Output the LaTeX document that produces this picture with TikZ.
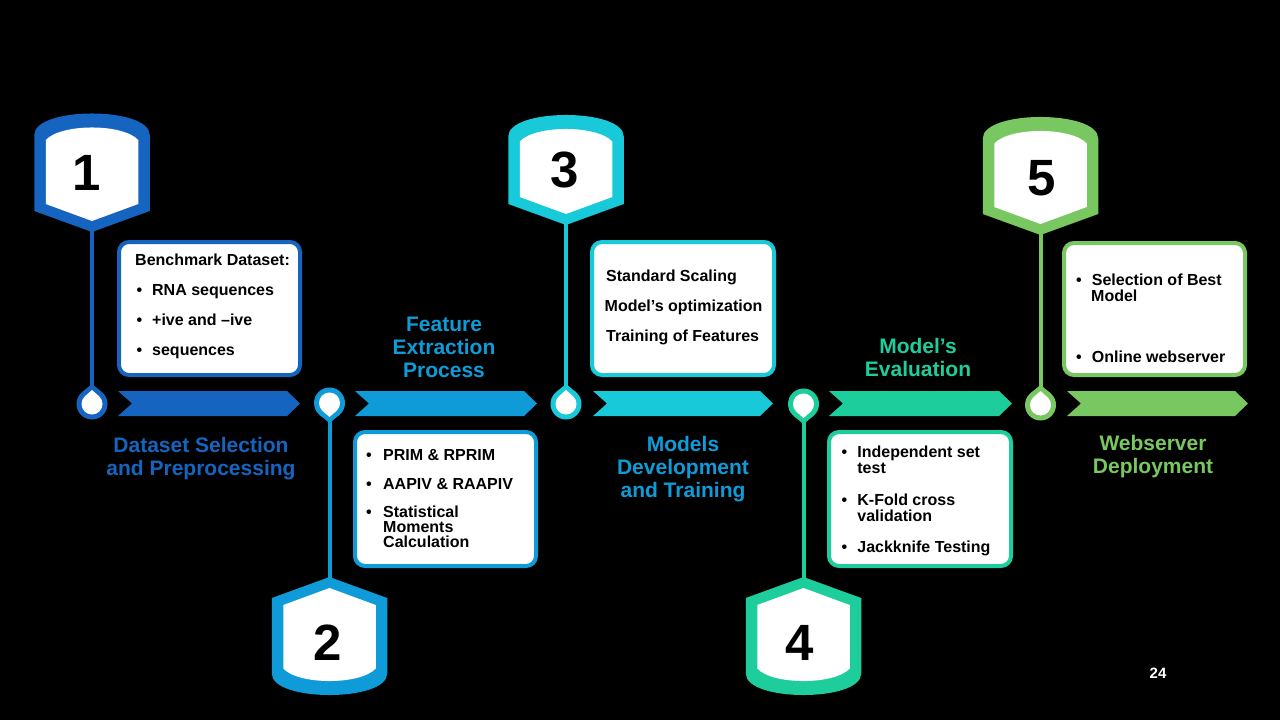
\documentclass[tikz,border=0pt]{standalone}
\usepackage{fontspec}
\setmainfont{Liberation Sans}
\definecolor{cA}{RGB}{21,101,192}
\definecolor{cB}{RGB}{14,155,216}
\definecolor{cC}{RGB}{23,201,217}
\definecolor{cD}{RGB}{29,206,156}
\definecolor{cE}{RGB}{120,199,96}
\newcommand\mybadge[5]{%
  \begin{scope}[shift={(#1,#2)}, yscale=#5]
    \fill[#4] (-57.75,#3-21) -- (-57.75,21.5) .. controls (-57.75,-7.2) and (57.75,-7.2) .. (57.75,21.5) -- (57.75,#3-21) -- (0,#3) -- cycle;
    \fill[white] (-46.25,#3-28) -- (-46.25,26.5) .. controls (-31,9.8) and (31,9.8) .. (46.25,26.5) -- (46.25,#3-28) -- (0,#3-11) -- cycle;
  \end{scope}}
\newcommand\mypin[4]{%
  \fill[#4] (#1,#2) circle[radius=15.5];
  \fill[#4] ([shift={(#3:20)}]#1,#2) -- ([shift={(#3+39.2:15.5)}]#1,#2) -- ([shift={(#3-39.2:15.5)}]#1,#2) -- cycle;
  \fill[white] (#1,#2) circle[radius=10.5];
  \fill[white] ([shift={(#3:14)}]#1,#2) -- ([shift={(#3+41.4:10.5)}]#1,#2) -- ([shift={(#3-41.4:10.5)}]#1,#2) -- cycle;}
\newcommand\myband[3]{%
  \fill[#3] (#1,391) -- (#2-13,391) -- (#2,403.5) -- (#2-13,416) -- (#1,416) -- (#1+14,403.5) -- cycle;}
\newcommand\bul[1]{\makebox[#1][l]{•}}
\begin{document}
\begin{tikzpicture}[x=1pt,y=-1pt,
  bt/.style={font=\fontsize{16}{18}\selectfont\bfseries, anchor=base west, inner sep=0pt, text=black},
  lab/.style={font=\fontsize{21}{23}\selectfont\bfseries, anchor=base, inner sep=0pt},
  num/.style={font=\fontsize{51}{51}\selectfont\bfseries, inner sep=0pt, text=black},
  stem/.style={line width=4pt},
  box/.style={draw, line width=4pt, fill=white, rounded corners=10pt, inner sep=0pt}]
\fill[black] (0,0) rectangle (1280,720);
\useasboundingbox (0,0) rectangle (1280,720);

% anchor coordinates
\coordinate (b1) at (92,225);
\coordinate (p1) at (92,404);
\coordinate (b2) at (329.5,585);
\coordinate (p2) at (329.5,403);
\coordinate (b3) at (566,218);
\coordinate (p3) at (566,404);
\coordinate (b4) at (803.5,585);
\coordinate (p4) at (803.5,404);
\coordinate (b5) at (1040.5,228);
\coordinate (p5) at (1040.5,405);

% stems
\draw[stem,cA] (b1) -- (p1);
\draw[stem,cB] (b2) -- (p2);
\draw[stem,cC] (b3) -- (p3);
\draw[stem,cD] (b4) -- (p4);
\draw[stem,cE] (b5) -- (p5);

% badges
\mybadge{92}{113.5}{118.5}{cA}{1}
\mybadge{329.5}{695}{118}{cB}{-1}
\mybadge{566}{115}{110}{cC}{1}
\mybadge{803.5}{695}{118}{cD}{-1}
\mybadge{1040.5}{117}{118}{cE}{1}

% numbers
\node[num] (n1) at (87,173) {1};
\node[num] (n2) at (328,643) {2};
\node[num] (n3) at (565,170) {3};
\node[num] (n4) at (800,643) {4};
\node[num] (n5) at (1042,178) {5};

% pins
\mypin{92}{404}{270}{cA}
\mypin{329.5}{403}{90}{cB}
\mypin{566}{404}{270}{cC}
\mypin{803.5}{404}{90}{cD}
\mypin{1040.5}{405}{270}{cE}

% bands
\myband{118}{300}{cA}
\myband{355}{537}{cB}
\myband{593}{773}{cC}
\myband{829}{1012}{cD}
\myband{1067}{1248}{cE}

% boxes
\node[box, draw=cA, minimum width=181pt, minimum height=133pt] (box1) at (209.5,308.5) {};
\node[box, draw=cB, minimum width=181pt, minimum height=134pt] (box2) at (445.5,499) {};
\node[box, draw=cC, minimum width=182pt, minimum height=133pt] (box3) at (683,308.5) {};
\node[box, draw=cD, minimum width=182pt, minimum height=134pt] (box4) at (920,499) {};
\node[box, draw=cE, minimum width=181pt, minimum height=132pt] (box5) at (1154.5,309) {};

% box 1 text
\node[bt] (t1a) at (135,265) {Benchmark Dataset:};
\node[bt] (t1b) at (136.5,295) {\bul{15.5pt}RNA sequences};
\node[bt] (t1c) at (136.5,325) {\bul{15.5pt}+ive and –ive};
\node[bt] (t1d) at (136.5,355) {\bul{15.5pt}sequences};

% box 2 text
\node[bt] (t2a) at (366,460) {\bul{17pt}PRIM \& RPRIM};
\node[bt] (t2b) at (366,489) {\bul{17pt}AAPIV \& RAAPIV};
\node[bt] (t2c) at (366,517) {\bul{17pt}Statistical};
\node[bt] (t2d) at (383,532.5) {Moments};
\node[bt] (t2e) at (383,547.5) {Calculation};

% box 3 text
\node[bt] (t3a) at (606,281) {Standard Scaling};
\node[bt] (t3b) at (604.5,311) {Model’s optimization};
\node[bt] (t3c) at (606,341) {Training of Features};

% box 4 text
\node[bt] (t4a) at (841.5,457.5) {\bul{15.7pt}Independent set};
\node[bt] (t4b) at (857.2,473.5) {test};
\node[bt] (t4c) at (841.5,505) {\bul{15.7pt}K-Fold cross};
\node[bt] (t4d) at (857.2,521.5) {validation};
\node[bt] (t4e) at (841.5,552.3) {\bul{15.7pt}Jackknife Testing};

% box 5 text
\node[bt] (t5a) at (1076,285) {\bul{15.7pt}Selection of Best};
\node[bt] (t5b) at (1091,301.5) {Model};
\node[bt] (t5c) at (1076,362.3) {\bul{15.7pt}Online webserver};

% labels
\node[lab, text=cA] (l1a) at (201,452) {Dataset Selection};
\node[lab, text=cA] (l1b) at (201,475) {and Preprocessing};
\node[lab, text=cB] (l2a) at (444,331) {Feature};
\node[lab, text=cB] (l2b) at (444,354) {Extraction};
\node[lab, text=cB] (l2c) at (444,377) {Process};
\node[lab, text=cB] (l3a) at (683,451) {Models};
\node[lab, text=cB] (l3b) at (683,474) {Development};
\node[lab, text=cB] (l3c) at (683,497) {and Training};
\node[lab, text=cD] (l4a) at (918,353) {Model’s};
\node[lab, text=cD] (l4b) at (918,376) {Evaluation};
\node[lab, text=cE] (l5a) at (1153,450) {Webserver};
\node[lab, text=cE] (l5b) at (1153,473) {Deployment};

% page number
\node[font=\fontsize{15}{15}\selectfont\bfseries, text=white, inner sep=0pt] (pg) at (1158,673) {24};
\end{tikzpicture}
\end{document}
